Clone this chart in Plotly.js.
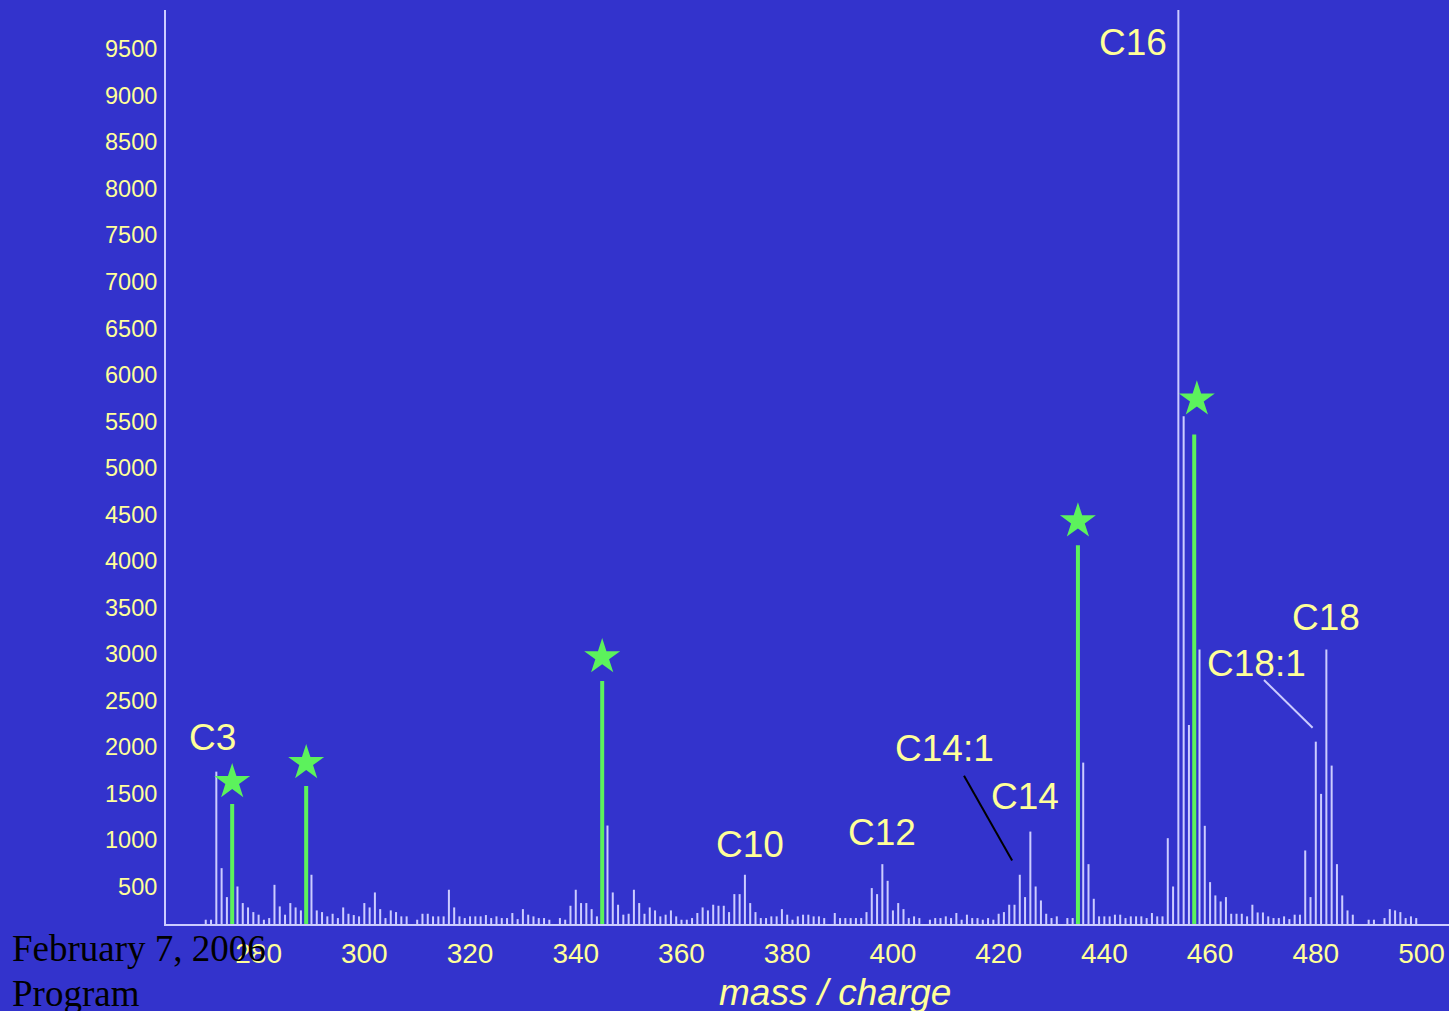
<!DOCTYPE html>
<html>
<head>
<meta charset="utf-8">
<script src="https://cdn.plot.ly/plotly-3.0.1.min.js"></script>
<style>
html,body{margin:0;padding:0;background:#3333cc;}
#chart{width:1449px;height:1011px;}
</style>
</head>
<body>
<div id="chart"></div>
<script>
// lavender peaks (m/z, intensity)
const peakMz = [270,271,272,273,274,276,277,278,279,280,281,282,283,284,285,286,287,288,290,291,292,293,294,295,296,297,298,299,300,301,302,303,304,305,306,307,308,310,311,312,313,314,315,316,317,318,319,320,321,322,323,324,325,326,327,328,329,330,331,332,333,334,335,337,338,339,340,341,342,343,344,346,347,348,349,350,351,352,353,354,355,356,357,358,359,360,361,362,363,364,365,366,367,368,369,370,371,372,373,374,375,376,377,378,379,380,381,382,383,384,385,386,387,389,390,391,392,393,394,395,396,397,398,399,400,401,402,403,404,405,407,408,409,410,411,412,413,414,415,416,417,418,419,420,421,422,423,424,425,426,427,428,429,430,431,433,434,436,437,438,439,440,441,442,443,444,445,446,447,448,449,450,451,452,453,454,455,456,458,459,460,461,462,463,464,465,466,467,468,469,470,471,472,473,474,475,476,477,478,479,480,481,482,483,484,485,486,487,490,491,493,494,495,496,497,498,499];
const peakInt = [146,146,1737,700,389,503,325,278,228,200,146,164,521,289,200,325,278,246,629,246,228,182,210,164,278,210,196,182,325,278,439,260,164,246,228,182,182,146,210,210,182,182,182,468,278,182,164,182,182,182,196,164,182,164,164,218,153,260,200,182,164,164,146,164,146,296,468,325,325,260,182,1158,439,307,200,210,468,325,210,278,246,182,200,246,182,146,146,164,218,278,246,307,296,296,228,421,421,629,325,228,164,164,182,182,260,200,146,182,200,200,182,182,164,218,164,164,164,164,164,228,486,421,743,564,246,325,260,164,182,164,146,164,164,182,164,218,146,200,164,164,146,164,146,210,228,307,307,629,389,1093,503,353,210,164,182,164,164,1834,743,371,182,182,182,200,200,164,182,182,182,164,218,182,182,1022,503,10400,5554,2238,3050,1155,550,407,342,389,210,210,210,182,307,224,224,182,164,164,182,153,200,200,890,389,2059,1498,3050,1802,743,407,246,200,146,146,164,260,246,228,164,182,164];

// green (starred) peaks
const greenMz = [275,289,345,435,457];
const greenInt = [1390,1584,2710,4170,5360];
const starMz = [275,289,345,435,457.5];
const starY = [1627,1831,2969,4428,5738];

// peak labels
const labelText = ["C3","C10","C12","C14:1","C14","C16","C18:1","C18"];
const labelMz = [271.2,373.0,397.9,409.7,425.0,445.4,468.7,481.9];
const labelY = [2099,951,1079,1981,1466,9567,2903,3397];

// leader lines [x0,y0,x1,y1] and colours
const leaderLines = [[413.45,1694,422.55,782],[470.2,2721,479.4,2209]];
const leaderColors = ["#000000","#ccccff"];

const yTicks = [500,1000,1500,2000,2500,3000,3500,4000,4500,5000,5500,6000,6500,7000,7500,8000,8500,9000,9500];
const xTicks = [280,300,320,340,360,380,400,420,440,460,480,500];

const lav = "#ccccff", green = "#5cf25c", yellow = "#ffff99", bg = "#3333cc";

const traces = [
  {type:"bar", x:peakMz, y:peakInt, width:0.38, marker:{color:lav, line:{width:0}}, hoverinfo:"x+y"},
  {type:"bar", x:greenMz, y:greenInt, width:0.76, marker:{color:green, line:{width:0}}, hoverinfo:"x+y"},
  {type:"scatter", mode:"markers", x:starMz, y:starY, marker:{symbol:"star", size:27, color:green, line:{width:0}}, hoverinfo:"skip", cliponaxis:false}
];

const annotations = labelText.map((t,i)=>({
  x:labelMz[i], y:labelY[i], xref:"x", yref:"y", text:t, showarrow:false,
  xanchor:"center", yanchor:"middle", font:{family:"Liberation Sans, Arial, sans-serif", size:37, color:yellow}
}));
annotations.push({xref:"paper", yref:"paper", x:0.5214, y:-0.0744, text:"<i>mass / charge</i>", showarrow:false,
  xanchor:"center", yanchor:"middle", font:{family:"Liberation Sans, Arial, sans-serif", size:37, color:yellow}});
annotations.push({xref:"paper", yref:"paper", x:-0.1215, y:-0.0263, text:"February 7, 2006", showarrow:false,
  xanchor:"left", yanchor:"middle", font:{family:"Liberation Serif, Times New Roman, serif", size:37, color:"#000000"}});
annotations.push({xref:"paper", yref:"paper", x:-0.1215, y:-0.0755, text:"Program", showarrow:false,
  xanchor:"left", yanchor:"middle", font:{family:"Liberation Serif, Times New Roman, serif", size:37, color:"#000000"}});

const shapes = leaderLines.map((l,i)=>({type:"line", xref:"x", yref:"y", x0:l[0], y0:l[1], x1:l[2], y1:l[3],
  line:{color:leaderColors[i], width:2}}));

const layout = {
  width:1449, height:1011,
  paper_bgcolor:bg, plot_bgcolor:bg,
  margin:{l:166, r:0, t:10, b:87, pad:0},
  showlegend:false, barmode:"overlay",
  font:{family:"Liberation Sans, Arial, sans-serif", color:yellow},
  xaxis:{range:[262.48,505.2], tickvals:xTicks, ticktext:xTicks.map(String), showgrid:false, zeroline:false,
    showline:true, linecolor:lav, linewidth:2, ticks:"", ticklabelstandoff:3,
    tickfont:{size:28, color:yellow, family:"Liberation Sans, Arial, sans-serif"}},
  yaxis:{range:[100,9920], tickvals:yTicks, ticktext:yTicks.map(String), showgrid:false, zeroline:false,
    showline:true, linecolor:lav, linewidth:2, ticks:"", ticklabelstandoff:2,
    tickfont:{size:23.5, color:yellow, family:"Liberation Sans, Arial, sans-serif"}},
  annotations:annotations, shapes:shapes
};

Plotly.newPlot("chart", traces, layout, {displayModeBar:false, staticPlot:true});
</script>
</body>
</html>
